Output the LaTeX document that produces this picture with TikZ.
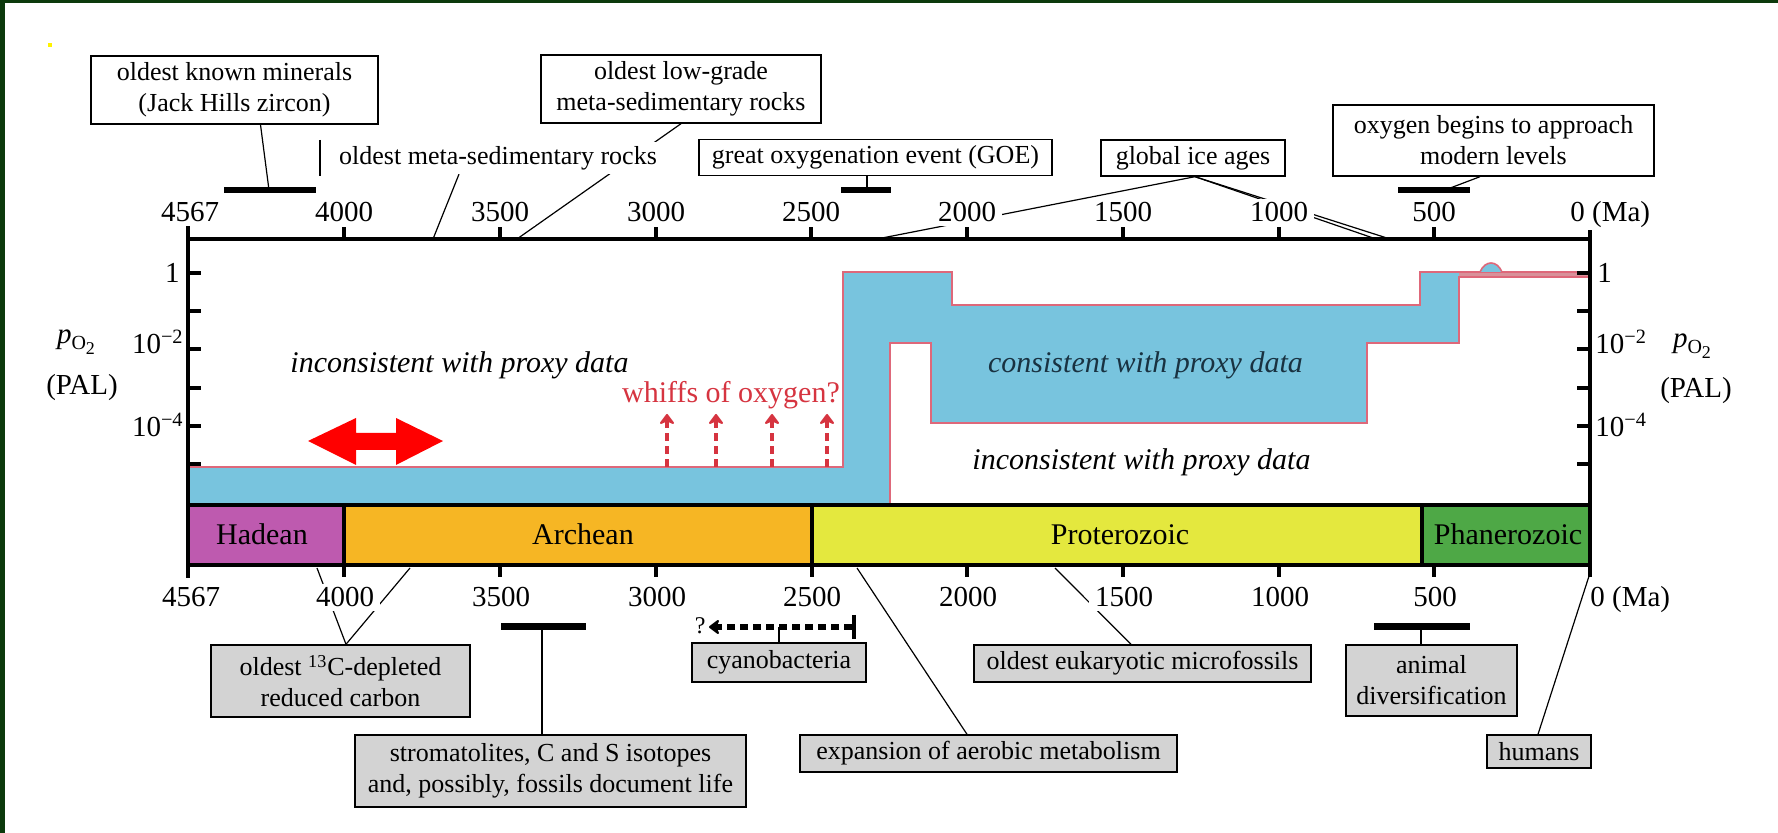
\documentclass[tikz,border=0pt]{standalone}
\usepackage{fontspec}
\setmainfont{Liberation Serif}
\usetikzlibrary{arrows.meta}
\pgfdeclarelayer{paper}
\pgfdeclarelayer{behind}
\pgfsetlayers{paper,behind,main}

\definecolor{bggreen}{RGB}{12,58,12}
\definecolor{oxblue}{RGB}{120,196,222}
\definecolor{oxedge}{RGB}{222,104,122}
\definecolor{bandpink}{RGB}{216,145,154}
\definecolor{whiffred}{RGB}{214,52,64}
\definecolor{hadean}{RGB}{190,90,175}
\definecolor{archean}{RGB}{246,182,36}
\definecolor{proterozoic}{RGB}{228,232,62}
\definecolor{phanerozoic}{RGB}{78,168,70}
\definecolor{boxgray}{RGB}{211,211,211}
\definecolor{darkslate}{RGB}{25,50,65}

\newcommand{\poxy}{\textit{p}\raisebox{-0.45ex}{\fontsize{10}{10}\selectfont O\raisebox{-0.55ex}{\fontsize{9}{9}\selectfont 2}}}
\newcommand{\tenpow}[1]{10\textsuperscript{−#1}}

\begin{document}
\begin{tikzpicture}[x=0.5pt,y=-0.5pt,
  note/.style={draw=black, line width=0.7pt, fill=white, align=center, inner sep=0pt,
               font=\fontsize{13}{15.5}\selectfont},
  graynote/.style={note, fill=boxgray},
  leader/.style={line width=0.6pt},
  rangebar/.style={line width=3pt},
  axisline/.style={line width=2.2pt},
  axtick/.style={line width=2pt},
  ticklab/.style={font=\fontsize{14.5}{16}\selectfont, fill=white, inner xsep=3pt, inner ysep=2pt, anchor=base},
  ylab/.style={font=\fontsize{14.5}{16}\selectfont, inner sep=0pt},
  eralab/.style={font=\fontsize{15}{17}\selectfont, inner sep=0pt, anchor=base},
  plotlab/.style={font=\fontsize{15}{17}\selectfont\itshape, inner sep=0pt, anchor=base},
  oxline/.style={draw=oxedge, line width=0.8pt},
  whiff/.style={draw=whiffred, line width=2.2pt, dash pattern=on 4pt off 2.5pt,
                -{Stealth[length=6pt,width=9pt,round]}},
  cyanoarrow/.style={line width=3pt, dash pattern=on 4pt off 2.5pt,
                -{Stealth[length=6pt,width=9pt,round]}}
]

% page
\begin{pgfonlayer}{paper}
  \fill[white] (0,0) rectangle (1778,833);
  \fill[bggreen] (0,0) rectangle (1778,3);
  \fill[bggreen] (0,0) rectangle (5,833);
  \fill[yellow] (48,43) rectangle (52,47);
\end{pgfonlayer}
\useasboundingbox (0,0) rectangle (1778,833);

% oxygen envelope
\fill[oxblue] (188,467) -- (843,467) -- (843,272) -- (952,272) -- (952,305) -- (1420,305)
  -- (1420,272) -- (1590,272) -- (1590,277) -- (1459,277) -- (1459,343) -- (1367,343)
  -- (1367,423) -- (931,423) -- (931,343) -- (890,343) -- (890,505) -- (188,505) -- cycle;
\fill[bandpink] (1459,272) rectangle (1590,277);
\draw[oxline] (188,467) -- (843,467) -- (843,272) -- (952,272) -- (952,305) -- (1420,305)
  -- (1420,272) -- (1590,272);
\draw[oxline] (1590,277) -- (1459,277) -- (1459,343) -- (1367,343) -- (1367,423)
  -- (931,423) -- (931,343) -- (890,343) -- (890,505);
\draw[oxline, fill=oxblue] (1480,272) .. controls (1485,260) and (1497,260) .. (1502,272);

% whiffs of oxygen
\foreach \wx [count=\i] in {667,716,772,827}{
  \coordinate (wb\i) at (\wx,467);
  \coordinate (wt\i) at (\wx,414);
  \draw[whiff] (wb\i) -- (wt\i);
}
\node[font=\fontsize{15}{17}\selectfont, text=whiffred, inner sep=0pt, anchor=base] (whiffs) at (731,403) {whiffs of oxygen?};

% red double arrow
\fill[red] (308,441) -- (356,418) -- (356,433) -- (396,433) -- (396,418) -- (443,441)
  -- (396,465) -- (396,450) -- (356,450) -- (356,465) -- cycle;

% plot labels
\node[plotlab] (incUp) at (459.5,373) {inconsistent with proxy data};
\node[plotlab, text=darkslate] (cons) at (1145.5,373) {consistent with proxy data};
\node[plotlab] (incLow) at (1141.5,470) {inconsistent with proxy data};

% eras
\fill[hadean] (188,505) rectangle (344,565);
\fill[archean] (344,505) rectangle (812,565);
\fill[proterozoic] (812,505) rectangle (1422,565);
\fill[phanerozoic] (1422,505) rectangle (1590,565);
\node[eralab] (had) at (262,545) {Hadean};
\node[eralab] (arc) at (583,545) {Archean};
\node[eralab] (pro) at (1120,545) {Proterozoic};
\node[eralab] (pha) at (1508,545) {Phanerozoic};

% frame
\draw[axisline] (188,239) -- (1590,239);
\draw[axisline] (188,505) -- (1590,505);
\draw[axisline] (188,565) -- (1590,565);
\draw[axisline] (188,225) -- (188,578);
\draw[axisline] (1590,227) -- (1590,577);
\draw[axisline] (344,505) -- (344,577);
\draw[axisline] (812,505) -- (812,577);
\draw[axisline] (1422,505) -- (1422,565);
\foreach \tx in {344,500,656,811,967,1123,1279,1434}{
  \draw[axtick] (\tx,239) -- (\tx,227);
}
\foreach \tx in {500,656,967,1123,1279,1434}{
  \draw[axtick] (\tx,565) -- (\tx,577);
}
\foreach \ty in {273,311.3,349.5,387.8,426,464.3}{
  \draw[axtick] (188,\ty) -- (201,\ty);
  \draw[axtick] (1590,\ty) -- (1577,\ty);
}

% time axis labels
\foreach \tx/\tl in {190/4567,344/4000,500/3500,656/3000,811/2500,967/2000,1123/1500,1279/1000,1434/500}{
  \node[ticklab] (top\tl) at (\tx,222) {\tl};
  \node[ticklab] (bot\tl) at (\tx+1,607) {\tl};
}
\node[ticklab, anchor=base west, inner sep=1pt] (topMa) at (1568,222) {0 (Ma)};
\node[ticklab, anchor=base west, inner sep=1pt] (botMa) at (1588,607) {0 (Ma)};

% oxygen axis labels
\node[ylab, anchor=base east] (l1) at (180,283) {1};
\node[ylab, anchor=base east] (l2) at (184,354) {\tenpow{2}};
\node[ylab, anchor=base east] (l4) at (184,437) {\tenpow{4}};
\node[ylab, anchor=base west] (r1) at (1597,283) {1};
\node[ylab, anchor=base west] (r2) at (1595,354) {\tenpow{2}};
\node[ylab, anchor=base west] (r4) at (1595,437) {\tenpow{4}};
\node[ylab] (pL) at (76,342) {\poxy};
\node[ylab] (palL) at (82,388) {(PAL)};
\node[ylab] (pR) at (1692,346) {\poxy};
\node[ylab] (palR) at (1696,391) {(PAL)};

% upper annotations
\node[note, minimum width=143.5pt, minimum height=34pt] (zircon) at (234.5,90)
  {oldest known minerals\\(Jack Hills zircon)};
\node[note, minimum width=140pt, minimum height=34pt] (lowgrade) at (681,89)
  {oldest low-grade\\meta-sedimentary rocks};
\node[note, minimum width=176.5pt, minimum height=18pt] (goe) at (875.5,157.5)
  {great oxygenation event (GOE)};
\node[note, minimum width=92pt, minimum height=18pt] (ice) at (1193,158)
  {global ice ages};
\node[note, minimum width=160.5pt, minimum height=35.5pt] (modern) at (1493.5,140.5)
  {oxygen begins to approach\\modern levels};
\node[font=\fontsize{13}{15.5}\selectfont, fill=white, inner sep=2pt] (msed) at (498,158)
  {oldest meta-sedimentary rocks};

% upper range bars
\coordinate (zirL) at (224,190); \coordinate (zirR) at (316,190); \coordinate (zirM) at (269,190);
\coordinate (goeL) at (841,190); \coordinate (goeR) at (891,190); \coordinate (goeM) at (867,190);
\coordinate (modL) at (1398,190); \coordinate (modR) at (1470,190); \coordinate (modM) at (1445,190);
\draw[rangebar] (zirL) -- (zirR);
\draw[rangebar] (goeL) -- (goeR);
\draw[rangebar] (modL) -- (modR);
\coordinate (zirEndA) at (320,140); \coordinate (zirEndB) at (320,176);

% lower annotations
\node[graynote, minimum width=129.5pt, minimum height=36pt] (carbon) at (340.5,681)
  {oldest \textsuperscript{13}C-depleted\\reduced carbon};
\node[graynote, minimum width=195.5pt, minimum height=36pt] (strom) at (550.5,771)
  {stromatolites, C and S isotopes\\and, possibly, fossils document life};
\node[graynote, minimum width=87pt, minimum height=19.5pt] (cyano) at (779,662.5)
  {cyanobacteria};
\node[graynote, minimum width=188.5pt, minimum height=18.5pt] (aerobic) at (988.5,753.5)
  {expansion of aerobic metabolism};
\node[graynote, minimum width=168.5pt, minimum height=18.5pt] (euk) at (1142.5,663.5)
  {oldest eukaryotic microfossils};
\node[graynote, minimum width=85.5pt, minimum height=35.5pt] (animal) at (1431.5,680.5)
  {animal\\diversification};
\node[graynote, minimum width=52pt, minimum height=16.5pt] (humans) at (1539,751.5)
  {humans};

% lower range bars and markers
\coordinate (stL) at (501,626.5); \coordinate (stR) at (586,626.5); \coordinate (stM) at (542,626.5);
\coordinate (anL) at (1374,626.5); \coordinate (anR) at (1470,626.5); \coordinate (anM) at (1421,626.5);
\draw[line width=3.5pt] (stL) -- (stR);
\draw[line width=3.5pt] (anL) -- (anR);
\coordinate (cyEnd) at (852,627); \coordinate (cyTip) at (709,627); \coordinate (cyM) at (779,627);
\coordinate (cyBarA) at (854,615); \coordinate (cyBarB) at (854,639);
\draw[cyanoarrow] (cyEnd) -- (cyTip);
\draw[line width=2.4pt] (cyBarA) -- (cyBarB);
\node[font=\fontsize{12}{14}\selectfont, inner sep=0pt, anchor=east] (cyQ) at (706,626) {?};

% axis targets of the leaders
\coordinate (msedAx) at (433,239);
\coordinate (lowAx) at (517,239);
\coordinate (iceA) at (877,239);
\coordinate (iceB) at (1376,239);
\coordinate (iceC) at (1390,239);
\coordinate (cA) at (317,568);
\coordinate (cB) at (410,568);
\coordinate (aerAx) at (857,568);
\coordinate (eukAx) at (1055,568);
\coordinate (humAx) at (1590,573);

% leaders, kept under the white labels
\begin{pgfonlayer}{behind}
  \draw[leader] ([xshift=13pt]zircon.south) -- (zirM);
  \draw[leader] (zirEndA) -- (zirEndB);
  \draw[leader] ([xshift=-19.5pt]msed.south) -- (msedAx);
  \draw[leader] (lowgrade.south) -- (lowAx);
  \draw[leader] ([xshift=-4.25pt]goe.south) -- (goeM);
  \draw[leader] ([xshift=1pt]ice.south) -- (iceA);
  \draw[leader] ([xshift=1pt]ice.south) -- (iceB);
  \draw[leader] ([xshift=1pt]ice.south) -- (iceC);
  \draw[leader] ([xshift=-6.75pt]modern.south) -- (modM);
  \draw[leader] ([xshift=2.75pt]carbon.north) -- (cA);
  \draw[leader] ([xshift=2.75pt]carbon.north) -- (cB);
  \draw[leader] (stM) -- ([xshift=-4.25pt]strom.north);
  \draw[leader] (cyM) -- (cyano.north);
  \draw[leader] ([xshift=-10.75pt]aerobic.north) -- (aerAx);
  \draw[leader] ([xshift=-5.75pt]euk.north) -- (eukAx);
  \draw[leader] (anM) -- ([xshift=-5.25pt]animal.north);
  \draw[leader] ([xshift=-0.5pt]humans.north) -- (humAx);
\end{pgfonlayer}

\end{tikzpicture}
\end{document}
